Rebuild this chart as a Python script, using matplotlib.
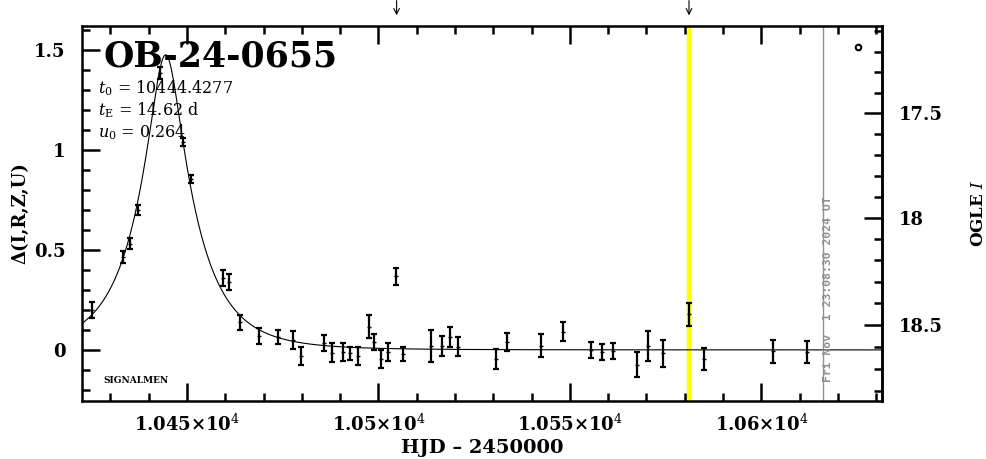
import numpy as np
import matplotlib
matplotlib.use("Agg")
import matplotlib.pyplot as plt
from matplotlib.ticker import MultipleLocator, FixedLocator, FuncFormatter

plt.rcParams["font.family"] = ["DejaVu Serif"]
plt.rcParams["mathtext.fontset"] = "dejavuserif"

# event parameters shown on the chart
event_name = "OB-24-0655"
t0 = 10444.4277
tE = 14.62
u0 = 0.264

# observations (HJD - 2450000, delta mag, error)
hjd = [10425.3, 10433.2, 10435.1, 10437.2, 10443.0, 10449.0, 10451.0, 10459.3,
       10461.0, 10463.8, 10468.9, 10473.8, 10477.8, 10479.8, 10485.8, 10487.8,
       10490.8, 10492.6, 10494.6, 10497.5, 10498.8, 10500.8, 10502.6, 10504.6,
       10506.5, 10513.7, 10516.7, 10518.7, 10520.8, 10530.6, 10533.6, 10542.5,
       10548.3, 10555.4, 10558.4, 10561.3, 10567.4, 10570.4, 10574.4, 10581.1,
       10585.1, 10603.1, 10612.0]
dmag = [0.20, 0.463, 0.531, 0.70, 1.383, 1.04, 0.855, 0.36,
        0.34, 0.138, 0.07, 0.065, 0.05, -0.03, 0.037, -0.014,
        -0.01, -0.017, -0.028, 0.117, 0.04, -0.045, -0.008, 0.367,
        -0.02, 0.02, 0.02, 0.065, 0.017, -0.045, 0.04, 0.021,
        0.092, 0.0, -0.012, -0.007, -0.073, 0.02, -0.017, 0.178,
        -0.045, -0.007, -0.01]
derr = [0.04, 0.03, 0.028, 0.025, 0.03, 0.02, 0.02, 0.04,
        0.04, 0.038, 0.04, 0.035, 0.043, 0.045, 0.04, 0.048,
        0.045, 0.033, 0.045, 0.058, 0.04, 0.046, 0.045, 0.042,
        0.037, 0.08, 0.05, 0.048, 0.047, 0.048, 0.043, 0.058,
        0.047, 0.038, 0.04, 0.04, 0.064, 0.074, 0.067, 0.056,
        0.054, 0.057, 0.053]

# markers
arrow_hjd = [10504.75, 10581.1]
now_hjd = 10581.1
stamp_hjd = 10616.1
stamp_text = "Fri Nov  1 23:08:30 2024 UT"
ogle_pt = (10625.2, 1.515)

# mag scale for the right axis
I_base = 18.614
f_s = 0.909


def d2i(d):
    d = np.asarray(d, dtype=float)
    return I_base - 2.5 * np.log10(np.clip(f_s * 10 ** (0.4 * d) + 1 - f_s, 1e-6, None))


def i2d(m):
    m = np.asarray(m, dtype=float)
    return 2.5 * np.log10(np.clip((10 ** (-0.4 * (m - I_base)) - 1 + f_s) / f_s, 1e-6, None))


fig = plt.figure(figsize=(9.86, 4.59), dpi=100)
ax = fig.add_axes([0.0832, 0.1264, 0.8113, 0.817])

xmin, xmax = 10422.6, 10631.5
ax.set_xlim(xmin, xmax)
ax.set_ylim(-0.255, 1.618)

# paczynski model from the fitted parameters
t = np.linspace(xmin, xmax, 2000)
u = np.sqrt(u0 ** 2 + ((t - t0) / tE) ** 2)
A = (u ** 2 + 2) / (u * np.sqrt(u ** 2 + 4))
ax.plot(t, 2.5 * np.log10(A), color="black", lw=0.8, zorder=3)

ax.axvline(now_hjd, color="#ffff00", lw=3.2, zorder=1)
ax.axvline(stamp_hjd, color="#909090", lw=1.0, zorder=1)

ax.errorbar(hjd, dmag, yerr=derr, fmt="_", ms=3, color="black", ecolor="black",
            elinewidth=1.6, capsize=2, capthick=1.6, zorder=4)
ax.plot([ogle_pt[0]], [ogle_pt[1]], "o", mfc="white", mec="black", ms=4, mew=1.5)

for xa in arrow_hjd:
    ax.annotate("", xy=(xa, 1.021), xytext=(xa, 1.075),
                xycoords=("data", "axes fraction"), textcoords=("data", "axes fraction"),
                arrowprops=dict(arrowstyle="->", lw=0.8, color="black"),
                annotation_clip=False)

ax.text(stamp_hjd + 1.4, -0.16, stamp_text, rotation=90, color="#909090",
        family="DejaVu Sans Mono", fontweight="bold", fontsize=8.2,
        ha="center", va="bottom")

ax.text(0.027, 0.893, event_name, transform=ax.transAxes, fontsize=25,
        fontweight="bold", va="baseline")
ax.text(0.02, 0.82, r"$t_0$ = %.4f" % t0, transform=ax.transAxes, fontsize=11.5,
        va="baseline")
ax.text(0.02, 0.762, r"$t_{\rm E}$ = %.2f d" % tE, transform=ax.transAxes,
        fontsize=11.5, va="baseline")
ax.text(0.02, 0.703, r"$u_0$ = %.3f" % u0, transform=ax.transAxes, fontsize=11.5,
        va="baseline")
ax.text(0.027, 0.048, "SIGNALMEN", transform=ax.transAxes, fontsize=6.5,
        fontweight="bold", va="baseline")

ax.xaxis.set_major_locator(MultipleLocator(50))
ax.xaxis.set_minor_locator(MultipleLocator(10))
ax.xaxis.set_major_formatter(FuncFormatter(lambda v, p: "%g×10$^4$" % (v / 1e4)))
ax.yaxis.set_major_locator(MultipleLocator(0.5))
ax.yaxis.set_minor_locator(MultipleLocator(0.1))
ax.yaxis.set_major_formatter(FuncFormatter(lambda v, p: "%g" % v))

ax.tick_params(which="both", direction="in", top=True, right=False,
               labelsize=13, width=1.8)
ax.tick_params(which="major", length=13)
ax.tick_params(which="minor", length=6)
ax.tick_params(axis="y", which="major", pad=12)
ax.tick_params(axis="x", which="major", pad=9)
for lab in ax.get_xticklabels() + ax.get_yticklabels():
    lab.set_fontweight("bold")
for sp in ax.spines.values():
    sp.set_linewidth(1.8)

ax.set_xlabel("HJD – 2450000", fontsize=14, fontweight="bold", labelpad=3)
ax.set_ylabel("Δ(I,R,Z,U)", fontsize=13, fontweight="bold", labelpad=3)

sec = ax.secondary_yaxis("right", functions=(d2i, i2d))
sec.yaxis.set_major_locator(FixedLocator([17.5, 18.0, 18.5]))
sec.yaxis.set_minor_locator(FixedLocator(np.arange(17.1, 18.85, 0.1)))
sec.yaxis.set_major_formatter(FuncFormatter(lambda v, p: "%g" % round(v, 1)))
sec.tick_params(which="both", direction="in", labelsize=13, width=1.8)
sec.tick_params(which="major", length=13, pad=12)
sec.tick_params(which="minor", length=6)
for lab in sec.get_yticklabels():
    lab.set_fontweight("bold")
sec.spines["right"].set_linewidth(1.8)
sec.set_ylabel("OGLE $\\mathit{I}$", fontsize=12, fontweight="bold", labelpad=20)

fig.savefig("out.png", dpi=100)
